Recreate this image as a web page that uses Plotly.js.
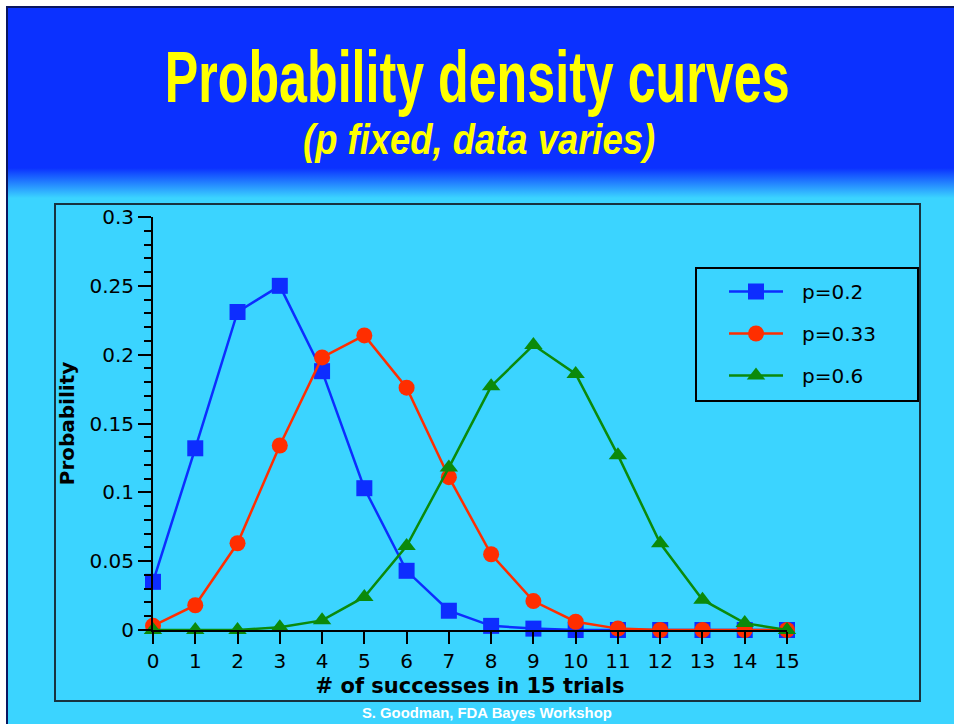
<!DOCTYPE html>
<html><head><meta charset="utf-8">
<script src="https://cdn.plot.ly/plotly-3.0.1.min.js"></script>
<style>
html,body{margin:0;padding:0;background:#fff;width:954px;height:724px;overflow:hidden}
#slide{position:absolute;left:6px;top:6px;width:960px;height:730px;border-left:2px solid #0a1660;border-top:2px solid #0a1660;background:linear-gradient(to bottom,#0b31ff 0px,#0b31ff 160px,#3bd4ff 190px,#3bd4ff 100%)}
#chart{position:absolute;left:0;top:0;width:954px;height:724px}
</style></head><body>
<div id="slide"></div><div id="chart"></div>
<script>
// number of successes in 15 trials
const successes = [0,1,2,3,4,5,6,7,8,9,10,11,12,13,14,15];
// probabilities
const probP020 = [0.035,0.132,0.231,0.250,0.188,0.103,0.043,0.014,0.003,0.001,0,0,0,0,0,0];
const probP033 = [0.003,0.018,0.063,0.134,0.198,0.214,0.176,0.111,0.055,0.021,0.006,0.001,0,0,0,0];
const probP060 = [0,0,0,0.002,0.007,0.024,0.061,0.118,0.177,0.207,0.186,0.127,0.063,0.022,0.005,0];
const seriesNames = ['p=0.2','p=0.33','p=0.6'];
const xTickLabels = successes.map(String);
const yTickVals = [0,0.05,0.1,0.15,0.2,0.25,0.3];
const yTickLabels = ['0','0.05','0.1','0.15','0.2','0.25','0.3'];

const W=954,H=724, L=153, R=787, T=217, B=630;
const px = v => (v-L)/(R-L);
const py = v => (B-v)/(B-T);

const mk = (y, name, color, symbol) => ({
  x: successes, y: y, name: name, type:'scatter', mode:'lines+markers',
  legendgroup: name, cliponaxis:false,
  line:{color:color,width:2.5},
  marker:{color:color,size:16,symbol:symbol}
});
const data = [
  mk(probP020, seriesNames[0], '#0d2dff', 'square'),
  mk(probP033, seriesNames[1], '#ff2e00', 'circle'),
  mk(probP060, seriesNames[2], '#0b8a0b', 'triangle-up')
];
const tickFont = {family:'DejaVu Sans', size:20, color:'#000'};
const layout = {
  width:W, height:H,
  margin:{l:L, r:W-R, t:T, b:H-B, pad:0},
  paper_bgcolor:'rgba(0,0,0,0)', plot_bgcolor:'rgba(0,0,0,0)',
  showlegend:true,
  legend:{x:px(724), y:py(272), xanchor:'left', yanchor:'top', bgcolor:'rgba(0,0,0,0)',
    borderwidth:0, font:{family:'DejaVu Sans', size:20, color:'#000'},
    traceorder:'grouped', tracegroupgap:13, itemwidth:54},
  xaxis:{range:[0,15], tickvals:successes, ticktext:xTickLabels, showgrid:false, zeroline:false,
    showline:true, linecolor:'#000', linewidth:2, ticks:'outside', ticklen:12, tickwidth:2, tickcolor:'#000',
    tickfont:tickFont,
    title:{text:'# of successes in 15 trials', font:{family:'DejaVu Sans', size:21, weight:'bold', color:'#000'}, standoff:6}},
  yaxis:{range:[0,0.3], tickvals:yTickVals, ticktext:yTickLabels, showgrid:false, zeroline:false,
    showline:true, linecolor:'#000', linewidth:2, ticks:'outside', ticklen:13, tickwidth:2, tickcolor:'#000',
    tickfont:tickFont,
    minor:{dtick:0.01, tick0:0, ticks:'outside', ticklen:7, tickwidth:2, tickcolor:'#000', showgrid:false},
    title:{text:'Probability', font:{family:'DejaVu Sans', size:20, weight:'bold', color:'#000'}, standoff:9}},
  shapes:[
    {type:'rect', xref:'paper', yref:'paper', x0:px(55), x1:px(920), y0:py(701), y1:py(204),
      line:{color:'#17323f', width:2}, fillcolor:'rgba(0,0,0,0)', layer:'below'},
    {type:'rect', xref:'paper', yref:'paper', x0:px(696), x1:px(918), y0:py(401), y1:py(268),
      line:{color:'#000', width:2}, fillcolor:'rgba(0,0,0,0)', layer:'above'}
  ],
  annotations:[
    {text:'Probability density curves', xref:'paper', yref:'paper', x:px(477), y:py(77), xanchor:'center', yanchor:'middle',
      showarrow:false, font:{family:'Liberation Sans, Arial', size:72, weight:'bold', color:'#ffff00'}},
    {text:'(p fixed, data varies)', xref:'paper', yref:'paper', x:px(479), y:py(139), xanchor:'center', yanchor:'middle',
      showarrow:false, font:{family:'Liberation Sans, Arial', size:42, weight:'bold', style:'italic', color:'#ffff00'}},
    {text:'S. Goodman, FDA Bayes Workshop', xref:'paper', yref:'paper', x:px(487), y:py(713), xanchor:'center', yanchor:'middle',
      showarrow:false, font:{family:'Liberation Sans, Arial', size:14, weight:'bold', color:'#ffffff'}}
  ]
};
const targetWidths = {'Probability density curves':625, '(p fixed, data varies)':352, 'S. Goodman, FDA Bayes Workshop':250};
const gd = document.getElementById('chart');
Plotly.newPlot(gd, data, layout, {staticPlot:true}).then(() => {
  gd.querySelectorAll('.annotation-text').forEach(t => {
    const w = targetWidths[t.textContent];
    if (!w) return;
    const bb = t.getBBox();
    const s = w / bb.width;
    const cx = bb.x + bb.width/2;
    const prev = t.getAttribute('transform') || '';
    t.setAttribute('transform', prev + ` translate(${cx},0) scale(${s},1) translate(${-cx},0)`);
  });
  // widen the gap between legend symbol and legend text, as in the original
  gd.querySelectorAll('.legend [clip-path]').forEach(el => el.removeAttribute('clip-path'));
  gd.querySelectorAll('.legendtext').forEach(t => {
    const x = parseFloat(t.getAttribute('x')) || 0;
    t.setAttribute('x', x + 14);
    t.querySelectorAll('tspan[x]').forEach(s => s.setAttribute('x', parseFloat(s.getAttribute('x')) + 14));
  });
});
</script>
</body></html>
